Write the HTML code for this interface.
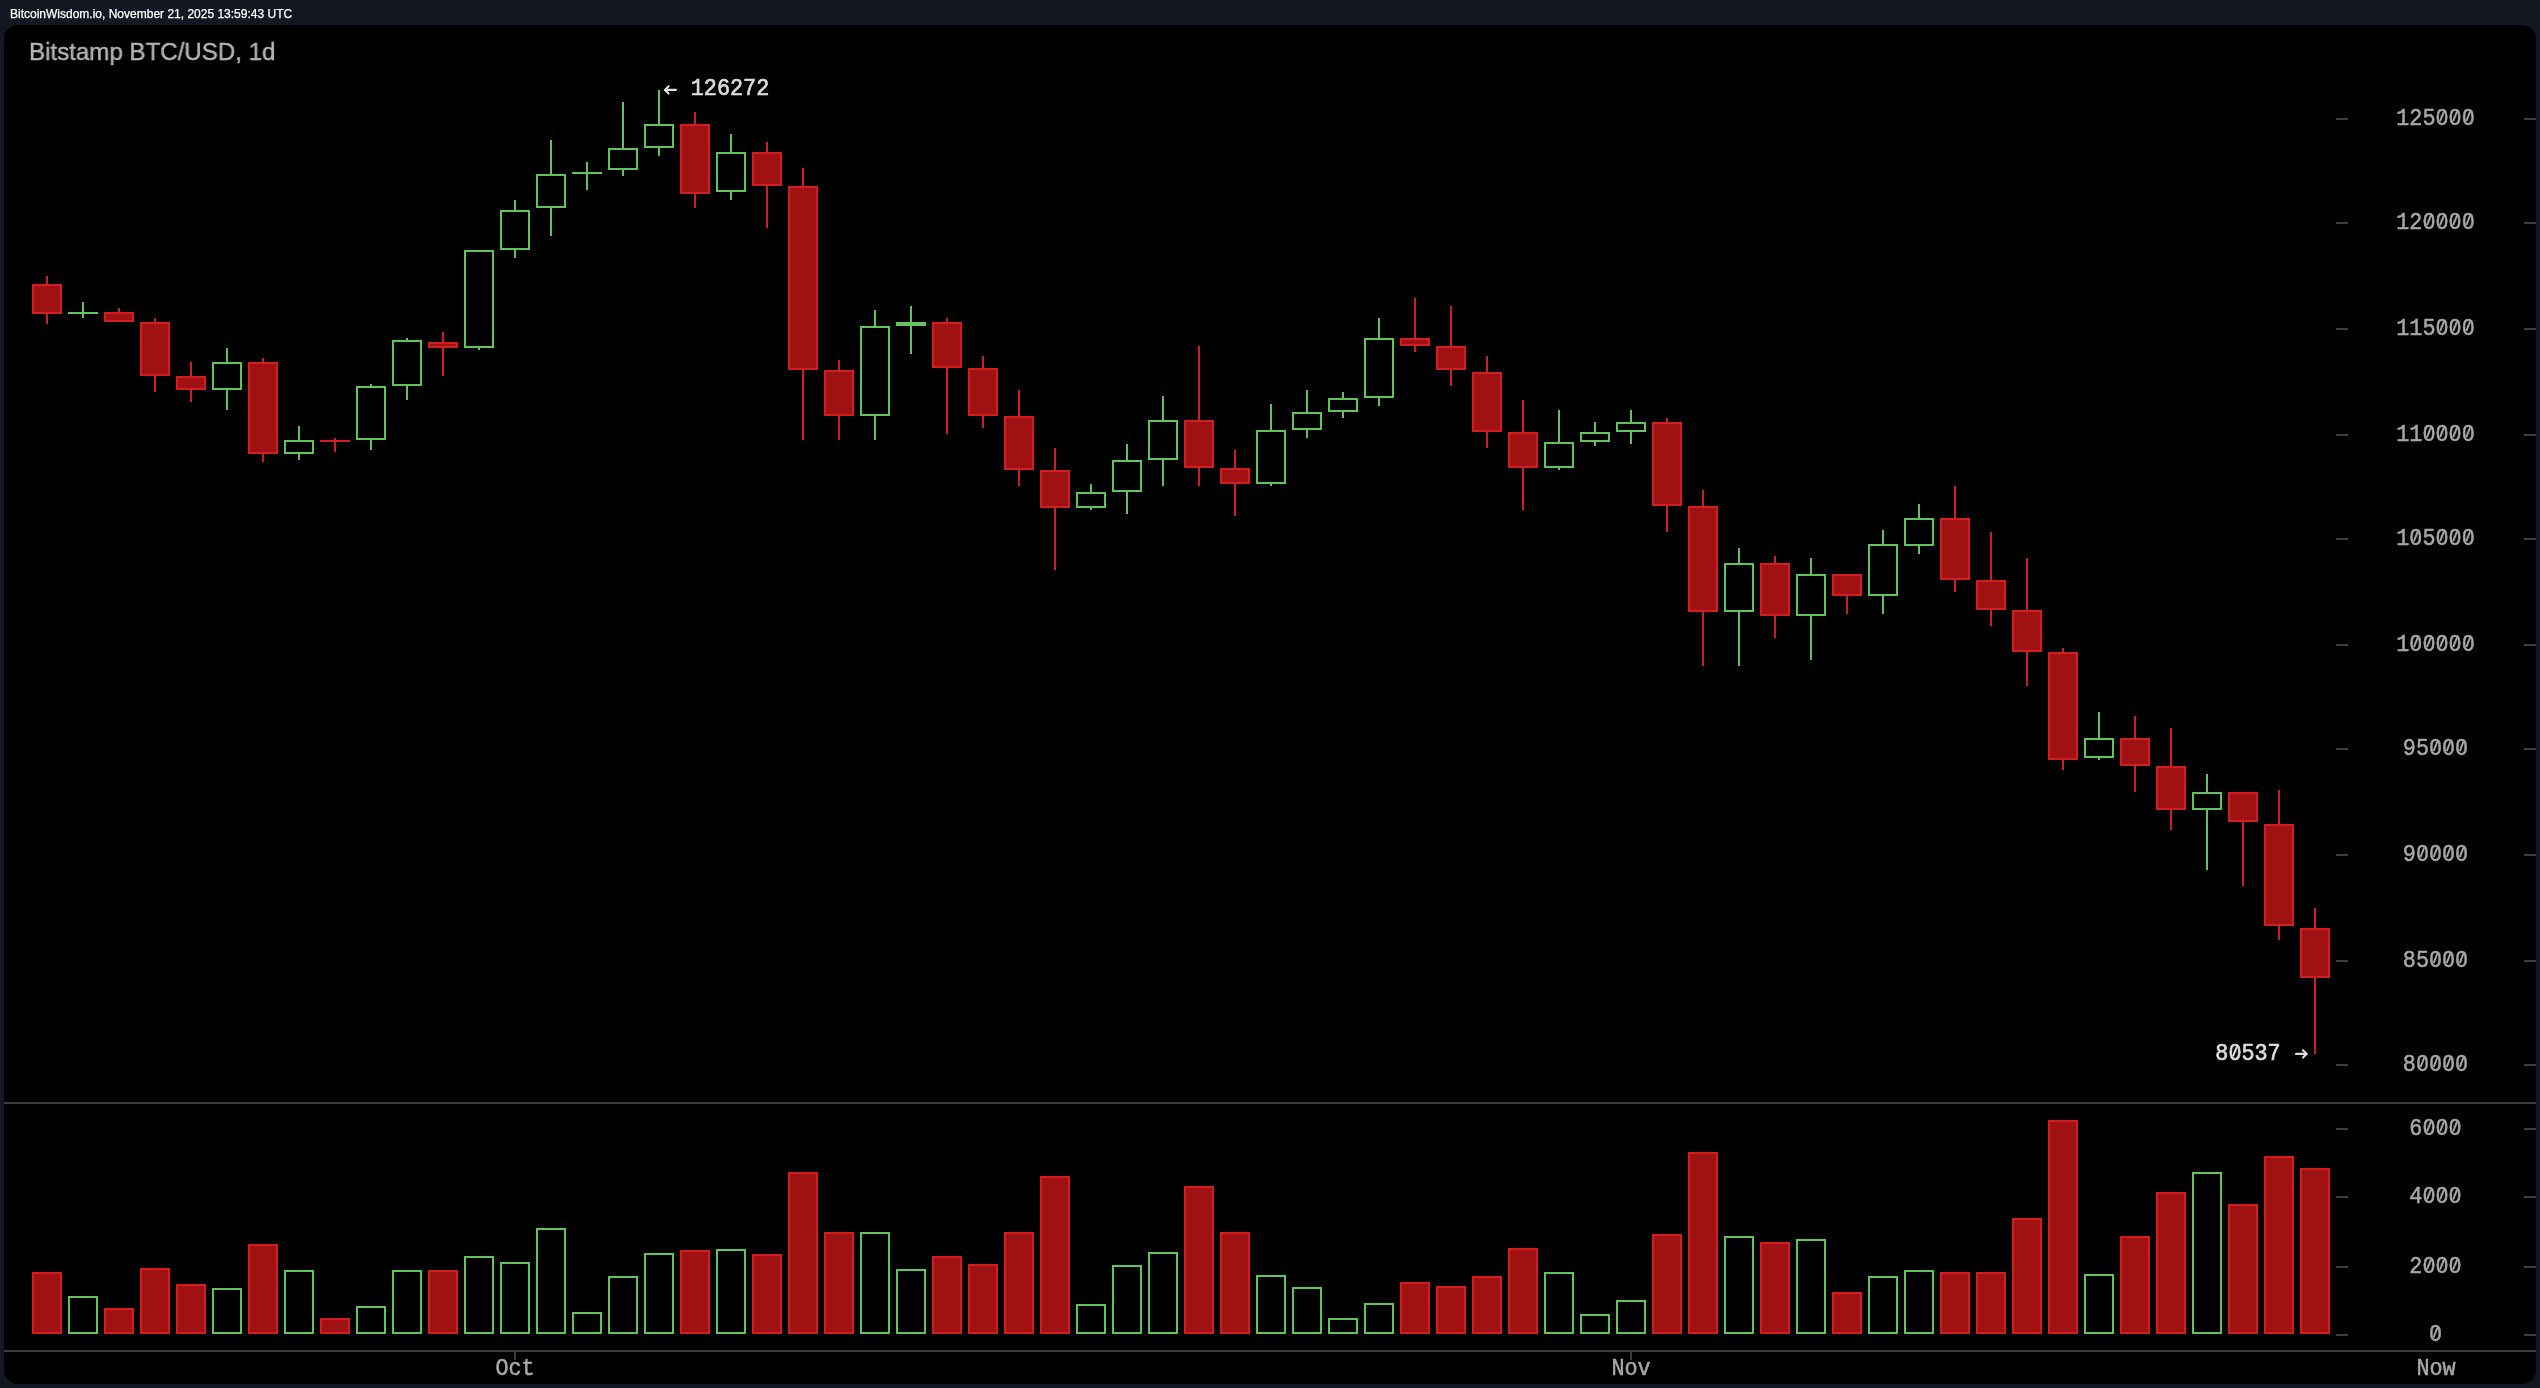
<!DOCTYPE html>
<html><head><meta charset="utf-8"><style>
html,body{margin:0;padding:0;}
body{width:2540px;height:1388px;background:#131722;position:relative;overflow:hidden;}
#hdr{position:absolute;left:10px;top:7.6px;will-change:transform;-webkit-text-stroke:0.25px #fff;font-family:"Liberation Sans",sans-serif;font-size:12px;line-height:1;color:#fff;white-space:nowrap;}
#panel{position:absolute;left:4px;top:25px;width:2532px;height:1359px;background:#000;border-radius:14px;}
#title{position:absolute;left:29.4px;top:39.6px;will-change:transform;transform:scaleX(0.972);transform-origin:0 0;-webkit-text-stroke:0.45px #b4b4b4;font-family:"Liberation Sans",sans-serif;font-size:24.8px;line-height:1;color:#b4b4b4;white-space:nowrap;}
svg{position:absolute;left:0;top:0;will-change:transform;}
.ax{font-family:"Liberation Mono",monospace;font-size:21.8px;fill:#a8a8a8;stroke:#a8a8a8;stroke-width:0.45px;}
.ann{font-family:"Liberation Mono",monospace;font-size:21.8px;fill:#dcdcdc;stroke:#dcdcdc;stroke-width:0.6px;}
</style></head><body>
<div id="hdr">BitcoinWisdom.io, November 21, 2025 13:59:43 UTC</div>
<div id="panel"></div>
<div id="title">Bitstamp BTC/USD, 1d</div>
<svg width="2540" height="1388" viewBox="0 0 2540 1388" shape-rendering="crispEdges">
<rect x="46" y="276" width="2" height="48" fill="#d21e21"/>
<rect x="32" y="284" width="30" height="30" fill="#d21e21"/>
<rect x="34" y="286" width="26" height="26" fill="#9f1113"/>
<rect x="82" y="302" width="2" height="16" fill="#60c45b"/>
<rect x="68" y="312" width="30" height="2" fill="#60c45b"/>
<rect x="118" y="308" width="2" height="14" fill="#d21e21"/>
<rect x="104" y="312" width="30" height="10" fill="#d21e21"/>
<rect x="106" y="314" width="26" height="6" fill="#9f1113"/>
<rect x="154" y="318" width="2" height="74" fill="#d21e21"/>
<rect x="140" y="322" width="30" height="54" fill="#d21e21"/>
<rect x="142" y="324" width="26" height="50" fill="#9f1113"/>
<rect x="190" y="362" width="2" height="40" fill="#d21e21"/>
<rect x="176" y="376" width="30" height="14" fill="#d21e21"/>
<rect x="178" y="378" width="26" height="10" fill="#9f1113"/>
<rect x="226" y="348" width="2" height="62" fill="#60c45b"/>
<rect x="212" y="362" width="30" height="28" fill="#60c45b"/>
<rect x="214" y="364" width="26" height="24" fill="#000"/>
<rect x="262" y="358" width="2" height="104" fill="#d21e21"/>
<rect x="248" y="362" width="30" height="92" fill="#d21e21"/>
<rect x="250" y="364" width="26" height="88" fill="#9f1113"/>
<rect x="298" y="426" width="2" height="34" fill="#60c45b"/>
<rect x="284" y="440" width="30" height="14" fill="#60c45b"/>
<rect x="286" y="442" width="26" height="10" fill="#000"/>
<rect x="334" y="438" width="2" height="14" fill="#d21e21"/>
<rect x="320" y="440" width="30" height="2" fill="#d21e21"/>
<rect x="370" y="384" width="2" height="66" fill="#60c45b"/>
<rect x="356" y="386" width="30" height="54" fill="#60c45b"/>
<rect x="358" y="388" width="26" height="50" fill="#000"/>
<rect x="406" y="338" width="2" height="62" fill="#60c45b"/>
<rect x="392" y="340" width="30" height="46" fill="#60c45b"/>
<rect x="394" y="342" width="26" height="42" fill="#000"/>
<rect x="442" y="332" width="2" height="44" fill="#d21e21"/>
<rect x="428" y="342" width="30" height="6" fill="#d21e21"/>
<rect x="430" y="344" width="26" height="2" fill="#9f1113"/>
<rect x="478" y="250" width="2" height="100" fill="#60c45b"/>
<rect x="464" y="250" width="30" height="98" fill="#60c45b"/>
<rect x="466" y="252" width="26" height="94" fill="#000"/>
<rect x="514" y="200" width="2" height="58" fill="#60c45b"/>
<rect x="500" y="210" width="30" height="40" fill="#60c45b"/>
<rect x="502" y="212" width="26" height="36" fill="#000"/>
<rect x="550" y="140" width="2" height="96" fill="#60c45b"/>
<rect x="536" y="174" width="30" height="34" fill="#60c45b"/>
<rect x="538" y="176" width="26" height="30" fill="#000"/>
<rect x="586" y="162" width="2" height="28" fill="#60c45b"/>
<rect x="572" y="172" width="30" height="2" fill="#60c45b"/>
<rect x="622" y="102" width="2" height="74" fill="#60c45b"/>
<rect x="608" y="148" width="30" height="22" fill="#60c45b"/>
<rect x="610" y="150" width="26" height="18" fill="#000"/>
<rect x="658" y="90" width="2" height="66" fill="#60c45b"/>
<rect x="644" y="124" width="30" height="24" fill="#60c45b"/>
<rect x="646" y="126" width="26" height="20" fill="#000"/>
<rect x="694" y="112" width="2" height="96" fill="#d21e21"/>
<rect x="680" y="124" width="30" height="70" fill="#d21e21"/>
<rect x="682" y="126" width="26" height="66" fill="#9f1113"/>
<rect x="730" y="134" width="2" height="66" fill="#60c45b"/>
<rect x="716" y="152" width="30" height="40" fill="#60c45b"/>
<rect x="718" y="154" width="26" height="36" fill="#000"/>
<rect x="766" y="142" width="2" height="86" fill="#d21e21"/>
<rect x="752" y="152" width="30" height="34" fill="#d21e21"/>
<rect x="754" y="154" width="26" height="30" fill="#9f1113"/>
<rect x="802" y="168" width="2" height="272" fill="#d21e21"/>
<rect x="788" y="186" width="30" height="184" fill="#d21e21"/>
<rect x="790" y="188" width="26" height="180" fill="#9f1113"/>
<rect x="838" y="360" width="2" height="80" fill="#d21e21"/>
<rect x="824" y="370" width="30" height="46" fill="#d21e21"/>
<rect x="826" y="372" width="26" height="42" fill="#9f1113"/>
<rect x="874" y="310" width="2" height="130" fill="#60c45b"/>
<rect x="860" y="326" width="30" height="90" fill="#60c45b"/>
<rect x="862" y="328" width="26" height="86" fill="#000"/>
<rect x="910" y="306" width="2" height="48" fill="#60c45b"/>
<rect x="896" y="322" width="30" height="4" fill="#60c45b"/>
<rect x="946" y="318" width="2" height="116" fill="#d21e21"/>
<rect x="932" y="322" width="30" height="46" fill="#d21e21"/>
<rect x="934" y="324" width="26" height="42" fill="#9f1113"/>
<rect x="982" y="356" width="2" height="72" fill="#d21e21"/>
<rect x="968" y="368" width="30" height="48" fill="#d21e21"/>
<rect x="970" y="370" width="26" height="44" fill="#9f1113"/>
<rect x="1018" y="390" width="2" height="96" fill="#d21e21"/>
<rect x="1004" y="416" width="30" height="54" fill="#d21e21"/>
<rect x="1006" y="418" width="26" height="50" fill="#9f1113"/>
<rect x="1054" y="448" width="2" height="122" fill="#d21e21"/>
<rect x="1040" y="470" width="30" height="38" fill="#d21e21"/>
<rect x="1042" y="472" width="26" height="34" fill="#9f1113"/>
<rect x="1090" y="484" width="2" height="26" fill="#60c45b"/>
<rect x="1076" y="492" width="30" height="16" fill="#60c45b"/>
<rect x="1078" y="494" width="26" height="12" fill="#000"/>
<rect x="1126" y="444" width="2" height="70" fill="#60c45b"/>
<rect x="1112" y="460" width="30" height="32" fill="#60c45b"/>
<rect x="1114" y="462" width="26" height="28" fill="#000"/>
<rect x="1162" y="396" width="2" height="90" fill="#60c45b"/>
<rect x="1148" y="420" width="30" height="40" fill="#60c45b"/>
<rect x="1150" y="422" width="26" height="36" fill="#000"/>
<rect x="1198" y="346" width="2" height="140" fill="#d21e21"/>
<rect x="1184" y="420" width="30" height="48" fill="#d21e21"/>
<rect x="1186" y="422" width="26" height="44" fill="#9f1113"/>
<rect x="1234" y="450" width="2" height="66" fill="#d21e21"/>
<rect x="1220" y="468" width="30" height="16" fill="#d21e21"/>
<rect x="1222" y="470" width="26" height="12" fill="#9f1113"/>
<rect x="1270" y="404" width="2" height="82" fill="#60c45b"/>
<rect x="1256" y="430" width="30" height="54" fill="#60c45b"/>
<rect x="1258" y="432" width="26" height="50" fill="#000"/>
<rect x="1306" y="390" width="2" height="48" fill="#60c45b"/>
<rect x="1292" y="412" width="30" height="18" fill="#60c45b"/>
<rect x="1294" y="414" width="26" height="14" fill="#000"/>
<rect x="1342" y="392" width="2" height="26" fill="#60c45b"/>
<rect x="1328" y="398" width="30" height="14" fill="#60c45b"/>
<rect x="1330" y="400" width="26" height="10" fill="#000"/>
<rect x="1378" y="318" width="2" height="88" fill="#60c45b"/>
<rect x="1364" y="338" width="30" height="60" fill="#60c45b"/>
<rect x="1366" y="340" width="26" height="56" fill="#000"/>
<rect x="1414" y="298" width="2" height="54" fill="#d21e21"/>
<rect x="1400" y="338" width="30" height="8" fill="#d21e21"/>
<rect x="1402" y="340" width="26" height="4" fill="#9f1113"/>
<rect x="1450" y="306" width="2" height="80" fill="#d21e21"/>
<rect x="1436" y="346" width="30" height="24" fill="#d21e21"/>
<rect x="1438" y="348" width="26" height="20" fill="#9f1113"/>
<rect x="1486" y="356" width="2" height="92" fill="#d21e21"/>
<rect x="1472" y="372" width="30" height="60" fill="#d21e21"/>
<rect x="1474" y="374" width="26" height="56" fill="#9f1113"/>
<rect x="1522" y="400" width="2" height="110" fill="#d21e21"/>
<rect x="1508" y="432" width="30" height="36" fill="#d21e21"/>
<rect x="1510" y="434" width="26" height="32" fill="#9f1113"/>
<rect x="1558" y="410" width="2" height="60" fill="#60c45b"/>
<rect x="1544" y="442" width="30" height="26" fill="#60c45b"/>
<rect x="1546" y="444" width="26" height="22" fill="#000"/>
<rect x="1594" y="422" width="2" height="24" fill="#60c45b"/>
<rect x="1580" y="432" width="30" height="10" fill="#60c45b"/>
<rect x="1582" y="434" width="26" height="6" fill="#000"/>
<rect x="1630" y="410" width="2" height="34" fill="#60c45b"/>
<rect x="1616" y="422" width="30" height="10" fill="#60c45b"/>
<rect x="1618" y="424" width="26" height="6" fill="#000"/>
<rect x="1666" y="418" width="2" height="114" fill="#d21e21"/>
<rect x="1652" y="422" width="30" height="84" fill="#d21e21"/>
<rect x="1654" y="424" width="26" height="80" fill="#9f1113"/>
<rect x="1702" y="490" width="2" height="176" fill="#d21e21"/>
<rect x="1688" y="506" width="30" height="106" fill="#d21e21"/>
<rect x="1690" y="508" width="26" height="102" fill="#9f1113"/>
<rect x="1738" y="548" width="2" height="118" fill="#60c45b"/>
<rect x="1724" y="563" width="30" height="49" fill="#60c45b"/>
<rect x="1726" y="565" width="26" height="45" fill="#000"/>
<rect x="1774" y="556" width="2" height="82" fill="#d21e21"/>
<rect x="1760" y="563" width="30" height="53" fill="#d21e21"/>
<rect x="1762" y="565" width="26" height="49" fill="#9f1113"/>
<rect x="1810" y="558" width="2" height="102" fill="#60c45b"/>
<rect x="1796" y="574" width="30" height="42" fill="#60c45b"/>
<rect x="1798" y="576" width="26" height="38" fill="#000"/>
<rect x="1846" y="574" width="2" height="40" fill="#d21e21"/>
<rect x="1832" y="574" width="30" height="22" fill="#d21e21"/>
<rect x="1834" y="576" width="26" height="18" fill="#9f1113"/>
<rect x="1882" y="530" width="2" height="84" fill="#60c45b"/>
<rect x="1868" y="544" width="30" height="52" fill="#60c45b"/>
<rect x="1870" y="546" width="26" height="48" fill="#000"/>
<rect x="1918" y="504" width="2" height="50" fill="#60c45b"/>
<rect x="1904" y="518" width="30" height="28" fill="#60c45b"/>
<rect x="1906" y="520" width="26" height="24" fill="#000"/>
<rect x="1954" y="486" width="2" height="106" fill="#d21e21"/>
<rect x="1940" y="518" width="30" height="62" fill="#d21e21"/>
<rect x="1942" y="520" width="26" height="58" fill="#9f1113"/>
<rect x="1990" y="532" width="2" height="94" fill="#d21e21"/>
<rect x="1976" y="580" width="30" height="30" fill="#d21e21"/>
<rect x="1978" y="582" width="26" height="26" fill="#9f1113"/>
<rect x="2026" y="558" width="2" height="128" fill="#d21e21"/>
<rect x="2012" y="610" width="30" height="42" fill="#d21e21"/>
<rect x="2014" y="612" width="26" height="38" fill="#9f1113"/>
<rect x="2062" y="648" width="2" height="122" fill="#d21e21"/>
<rect x="2048" y="652" width="30" height="108" fill="#d21e21"/>
<rect x="2050" y="654" width="26" height="104" fill="#9f1113"/>
<rect x="2098" y="712" width="2" height="48" fill="#60c45b"/>
<rect x="2084" y="738" width="30" height="20" fill="#60c45b"/>
<rect x="2086" y="740" width="26" height="16" fill="#000"/>
<rect x="2134" y="716" width="2" height="76" fill="#d21e21"/>
<rect x="2120" y="738" width="30" height="28" fill="#d21e21"/>
<rect x="2122" y="740" width="26" height="24" fill="#9f1113"/>
<rect x="2170" y="728" width="2" height="102" fill="#d21e21"/>
<rect x="2156" y="766" width="30" height="44" fill="#d21e21"/>
<rect x="2158" y="768" width="26" height="40" fill="#9f1113"/>
<rect x="2206" y="774" width="2" height="96" fill="#60c45b"/>
<rect x="2192" y="792" width="30" height="18" fill="#60c45b"/>
<rect x="2194" y="794" width="26" height="14" fill="#000"/>
<rect x="2242" y="792" width="2" height="94" fill="#d21e21"/>
<rect x="2228" y="792" width="30" height="30" fill="#d21e21"/>
<rect x="2230" y="794" width="26" height="26" fill="#9f1113"/>
<rect x="2278" y="790" width="2" height="150" fill="#d21e21"/>
<rect x="2264" y="824" width="30" height="102" fill="#d21e21"/>
<rect x="2266" y="826" width="26" height="98" fill="#9f1113"/>
<rect x="2314" y="908" width="2" height="146" fill="#d21e21"/>
<rect x="2300" y="928" width="30" height="50" fill="#d21e21"/>
<rect x="2302" y="930" width="26" height="46" fill="#9f1113"/>
<rect x="32" y="1272" width="30" height="62" fill="#d21e21"/>
<rect x="34" y="1274" width="26" height="58" fill="#9f1113"/>
<rect x="68" y="1296" width="30" height="38" fill="#60c45b"/>
<rect x="70" y="1298" width="26" height="34" fill="#000"/>
<rect x="104" y="1308" width="30" height="26" fill="#d21e21"/>
<rect x="106" y="1310" width="26" height="22" fill="#9f1113"/>
<rect x="140" y="1268" width="30" height="66" fill="#d21e21"/>
<rect x="142" y="1270" width="26" height="62" fill="#9f1113"/>
<rect x="176" y="1284" width="30" height="50" fill="#d21e21"/>
<rect x="178" y="1286" width="26" height="46" fill="#9f1113"/>
<rect x="212" y="1288" width="30" height="46" fill="#60c45b"/>
<rect x="214" y="1290" width="26" height="42" fill="#000"/>
<rect x="248" y="1244" width="30" height="90" fill="#d21e21"/>
<rect x="250" y="1246" width="26" height="86" fill="#9f1113"/>
<rect x="284" y="1270" width="30" height="64" fill="#60c45b"/>
<rect x="286" y="1272" width="26" height="60" fill="#000"/>
<rect x="320" y="1318" width="30" height="16" fill="#d21e21"/>
<rect x="322" y="1320" width="26" height="12" fill="#9f1113"/>
<rect x="356" y="1306" width="30" height="28" fill="#60c45b"/>
<rect x="358" y="1308" width="26" height="24" fill="#000"/>
<rect x="392" y="1270" width="30" height="64" fill="#60c45b"/>
<rect x="394" y="1272" width="26" height="60" fill="#000"/>
<rect x="428" y="1270" width="30" height="64" fill="#d21e21"/>
<rect x="430" y="1272" width="26" height="60" fill="#9f1113"/>
<rect x="464" y="1256" width="30" height="78" fill="#60c45b"/>
<rect x="466" y="1258" width="26" height="74" fill="#000"/>
<rect x="500" y="1262" width="30" height="72" fill="#60c45b"/>
<rect x="502" y="1264" width="26" height="68" fill="#000"/>
<rect x="536" y="1228" width="30" height="106" fill="#60c45b"/>
<rect x="538" y="1230" width="26" height="102" fill="#000"/>
<rect x="572" y="1312" width="30" height="22" fill="#60c45b"/>
<rect x="574" y="1314" width="26" height="18" fill="#000"/>
<rect x="608" y="1276" width="30" height="58" fill="#60c45b"/>
<rect x="610" y="1278" width="26" height="54" fill="#000"/>
<rect x="644" y="1253" width="30" height="81" fill="#60c45b"/>
<rect x="646" y="1255" width="26" height="77" fill="#000"/>
<rect x="680" y="1250" width="30" height="84" fill="#d21e21"/>
<rect x="682" y="1252" width="26" height="80" fill="#9f1113"/>
<rect x="716" y="1249" width="30" height="85" fill="#60c45b"/>
<rect x="718" y="1251" width="26" height="81" fill="#000"/>
<rect x="752" y="1254" width="30" height="80" fill="#d21e21"/>
<rect x="754" y="1256" width="26" height="76" fill="#9f1113"/>
<rect x="788" y="1172" width="30" height="162" fill="#d21e21"/>
<rect x="790" y="1174" width="26" height="158" fill="#9f1113"/>
<rect x="824" y="1232" width="30" height="102" fill="#d21e21"/>
<rect x="826" y="1234" width="26" height="98" fill="#9f1113"/>
<rect x="860" y="1232" width="30" height="102" fill="#60c45b"/>
<rect x="862" y="1234" width="26" height="98" fill="#000"/>
<rect x="896" y="1269" width="30" height="65" fill="#60c45b"/>
<rect x="898" y="1271" width="26" height="61" fill="#000"/>
<rect x="932" y="1256" width="30" height="78" fill="#d21e21"/>
<rect x="934" y="1258" width="26" height="74" fill="#9f1113"/>
<rect x="968" y="1264" width="30" height="70" fill="#d21e21"/>
<rect x="970" y="1266" width="26" height="66" fill="#9f1113"/>
<rect x="1004" y="1232" width="30" height="102" fill="#d21e21"/>
<rect x="1006" y="1234" width="26" height="98" fill="#9f1113"/>
<rect x="1040" y="1176" width="30" height="158" fill="#d21e21"/>
<rect x="1042" y="1178" width="26" height="154" fill="#9f1113"/>
<rect x="1076" y="1304" width="30" height="30" fill="#60c45b"/>
<rect x="1078" y="1306" width="26" height="26" fill="#000"/>
<rect x="1112" y="1265" width="30" height="69" fill="#60c45b"/>
<rect x="1114" y="1267" width="26" height="65" fill="#000"/>
<rect x="1148" y="1252" width="30" height="82" fill="#60c45b"/>
<rect x="1150" y="1254" width="26" height="78" fill="#000"/>
<rect x="1184" y="1186" width="30" height="148" fill="#d21e21"/>
<rect x="1186" y="1188" width="26" height="144" fill="#9f1113"/>
<rect x="1220" y="1232" width="30" height="102" fill="#d21e21"/>
<rect x="1222" y="1234" width="26" height="98" fill="#9f1113"/>
<rect x="1256" y="1275" width="30" height="59" fill="#60c45b"/>
<rect x="1258" y="1277" width="26" height="55" fill="#000"/>
<rect x="1292" y="1287" width="30" height="47" fill="#60c45b"/>
<rect x="1294" y="1289" width="26" height="43" fill="#000"/>
<rect x="1328" y="1318" width="30" height="16" fill="#60c45b"/>
<rect x="1330" y="1320" width="26" height="12" fill="#000"/>
<rect x="1364" y="1303" width="30" height="31" fill="#60c45b"/>
<rect x="1366" y="1305" width="26" height="27" fill="#000"/>
<rect x="1400" y="1282" width="30" height="52" fill="#d21e21"/>
<rect x="1402" y="1284" width="26" height="48" fill="#9f1113"/>
<rect x="1436" y="1286" width="30" height="48" fill="#d21e21"/>
<rect x="1438" y="1288" width="26" height="44" fill="#9f1113"/>
<rect x="1472" y="1276" width="30" height="58" fill="#d21e21"/>
<rect x="1474" y="1278" width="26" height="54" fill="#9f1113"/>
<rect x="1508" y="1248" width="30" height="86" fill="#d21e21"/>
<rect x="1510" y="1250" width="26" height="82" fill="#9f1113"/>
<rect x="1544" y="1272" width="30" height="62" fill="#60c45b"/>
<rect x="1546" y="1274" width="26" height="58" fill="#000"/>
<rect x="1580" y="1314" width="30" height="20" fill="#60c45b"/>
<rect x="1582" y="1316" width="26" height="16" fill="#000"/>
<rect x="1616" y="1300" width="30" height="34" fill="#60c45b"/>
<rect x="1618" y="1302" width="26" height="30" fill="#000"/>
<rect x="1652" y="1234" width="30" height="100" fill="#d21e21"/>
<rect x="1654" y="1236" width="26" height="96" fill="#9f1113"/>
<rect x="1688" y="1152" width="30" height="182" fill="#d21e21"/>
<rect x="1690" y="1154" width="26" height="178" fill="#9f1113"/>
<rect x="1724" y="1236" width="30" height="98" fill="#60c45b"/>
<rect x="1726" y="1238" width="26" height="94" fill="#000"/>
<rect x="1760" y="1242" width="30" height="92" fill="#d21e21"/>
<rect x="1762" y="1244" width="26" height="88" fill="#9f1113"/>
<rect x="1796" y="1239" width="30" height="95" fill="#60c45b"/>
<rect x="1798" y="1241" width="26" height="91" fill="#000"/>
<rect x="1832" y="1292" width="30" height="42" fill="#d21e21"/>
<rect x="1834" y="1294" width="26" height="38" fill="#9f1113"/>
<rect x="1868" y="1276" width="30" height="58" fill="#60c45b"/>
<rect x="1870" y="1278" width="26" height="54" fill="#000"/>
<rect x="1904" y="1270" width="30" height="64" fill="#60c45b"/>
<rect x="1906" y="1272" width="26" height="60" fill="#000"/>
<rect x="1940" y="1272" width="30" height="62" fill="#d21e21"/>
<rect x="1942" y="1274" width="26" height="58" fill="#9f1113"/>
<rect x="1976" y="1272" width="30" height="62" fill="#d21e21"/>
<rect x="1978" y="1274" width="26" height="58" fill="#9f1113"/>
<rect x="2012" y="1218" width="30" height="116" fill="#d21e21"/>
<rect x="2014" y="1220" width="26" height="112" fill="#9f1113"/>
<rect x="2048" y="1120" width="30" height="214" fill="#d21e21"/>
<rect x="2050" y="1122" width="26" height="210" fill="#9f1113"/>
<rect x="2084" y="1274" width="30" height="60" fill="#60c45b"/>
<rect x="2086" y="1276" width="26" height="56" fill="#000"/>
<rect x="2120" y="1236" width="30" height="98" fill="#d21e21"/>
<rect x="2122" y="1238" width="26" height="94" fill="#9f1113"/>
<rect x="2156" y="1192" width="30" height="142" fill="#d21e21"/>
<rect x="2158" y="1194" width="26" height="138" fill="#9f1113"/>
<rect x="2192" y="1172" width="30" height="162" fill="#60c45b"/>
<rect x="2194" y="1174" width="26" height="158" fill="#000"/>
<rect x="2228" y="1204" width="30" height="130" fill="#d21e21"/>
<rect x="2230" y="1206" width="26" height="126" fill="#9f1113"/>
<rect x="2264" y="1156" width="30" height="178" fill="#d21e21"/>
<rect x="2266" y="1158" width="26" height="174" fill="#9f1113"/>
<rect x="2300" y="1168" width="30" height="166" fill="#d21e21"/>
<rect x="2302" y="1170" width="26" height="162" fill="#9f1113"/>
<rect x="2336" y="118" width="12" height="2" fill="#3e3e3e"/>
<rect x="2524" y="118" width="12" height="2" fill="#3e3e3e"/>
<text transform="translate(2435.50,124.50) scale(1,1.13)" class="ax" text-anchor="middle">125000</text>
<rect x="2440.34" y="114.00" width="3.4" height="4.6" fill="#000" shape-rendering="geometricPrecision"/>
<path d="M2440.14 121.20L2443.94 111.40" stroke="#a8a8a8" stroke-width="1.9" fill="none" shape-rendering="geometricPrecision"/>
<rect x="2453.42" y="114.00" width="3.4" height="4.6" fill="#000" shape-rendering="geometricPrecision"/>
<path d="M2453.22 121.20L2457.02 111.40" stroke="#a8a8a8" stroke-width="1.9" fill="none" shape-rendering="geometricPrecision"/>
<rect x="2466.50" y="114.00" width="3.4" height="4.6" fill="#000" shape-rendering="geometricPrecision"/>
<path d="M2466.30 121.20L2470.10 111.40" stroke="#a8a8a8" stroke-width="1.9" fill="none" shape-rendering="geometricPrecision"/>
<rect x="2336" y="222" width="12" height="2" fill="#3e3e3e"/>
<rect x="2524" y="222" width="12" height="2" fill="#3e3e3e"/>
<text transform="translate(2435.50,228.50) scale(1,1.13)" class="ax" text-anchor="middle">120000</text>
<rect x="2427.26" y="218.00" width="3.4" height="4.6" fill="#000" shape-rendering="geometricPrecision"/>
<path d="M2427.06 225.20L2430.86 215.40" stroke="#a8a8a8" stroke-width="1.9" fill="none" shape-rendering="geometricPrecision"/>
<rect x="2440.34" y="218.00" width="3.4" height="4.6" fill="#000" shape-rendering="geometricPrecision"/>
<path d="M2440.14 225.20L2443.94 215.40" stroke="#a8a8a8" stroke-width="1.9" fill="none" shape-rendering="geometricPrecision"/>
<rect x="2453.42" y="218.00" width="3.4" height="4.6" fill="#000" shape-rendering="geometricPrecision"/>
<path d="M2453.22 225.20L2457.02 215.40" stroke="#a8a8a8" stroke-width="1.9" fill="none" shape-rendering="geometricPrecision"/>
<rect x="2466.50" y="218.00" width="3.4" height="4.6" fill="#000" shape-rendering="geometricPrecision"/>
<path d="M2466.30 225.20L2470.10 215.40" stroke="#a8a8a8" stroke-width="1.9" fill="none" shape-rendering="geometricPrecision"/>
<rect x="2336" y="328" width="12" height="2" fill="#3e3e3e"/>
<rect x="2524" y="328" width="12" height="2" fill="#3e3e3e"/>
<text transform="translate(2435.50,334.50) scale(1,1.13)" class="ax" text-anchor="middle">115000</text>
<rect x="2440.34" y="324.00" width="3.4" height="4.6" fill="#000" shape-rendering="geometricPrecision"/>
<path d="M2440.14 331.20L2443.94 321.40" stroke="#a8a8a8" stroke-width="1.9" fill="none" shape-rendering="geometricPrecision"/>
<rect x="2453.42" y="324.00" width="3.4" height="4.6" fill="#000" shape-rendering="geometricPrecision"/>
<path d="M2453.22 331.20L2457.02 321.40" stroke="#a8a8a8" stroke-width="1.9" fill="none" shape-rendering="geometricPrecision"/>
<rect x="2466.50" y="324.00" width="3.4" height="4.6" fill="#000" shape-rendering="geometricPrecision"/>
<path d="M2466.30 331.20L2470.10 321.40" stroke="#a8a8a8" stroke-width="1.9" fill="none" shape-rendering="geometricPrecision"/>
<rect x="2336" y="434" width="12" height="2" fill="#3e3e3e"/>
<rect x="2524" y="434" width="12" height="2" fill="#3e3e3e"/>
<text transform="translate(2435.50,440.50) scale(1,1.13)" class="ax" text-anchor="middle">110000</text>
<rect x="2427.26" y="430.00" width="3.4" height="4.6" fill="#000" shape-rendering="geometricPrecision"/>
<path d="M2427.06 437.20L2430.86 427.40" stroke="#a8a8a8" stroke-width="1.9" fill="none" shape-rendering="geometricPrecision"/>
<rect x="2440.34" y="430.00" width="3.4" height="4.6" fill="#000" shape-rendering="geometricPrecision"/>
<path d="M2440.14 437.20L2443.94 427.40" stroke="#a8a8a8" stroke-width="1.9" fill="none" shape-rendering="geometricPrecision"/>
<rect x="2453.42" y="430.00" width="3.4" height="4.6" fill="#000" shape-rendering="geometricPrecision"/>
<path d="M2453.22 437.20L2457.02 427.40" stroke="#a8a8a8" stroke-width="1.9" fill="none" shape-rendering="geometricPrecision"/>
<rect x="2466.50" y="430.00" width="3.4" height="4.6" fill="#000" shape-rendering="geometricPrecision"/>
<path d="M2466.30 437.20L2470.10 427.40" stroke="#a8a8a8" stroke-width="1.9" fill="none" shape-rendering="geometricPrecision"/>
<rect x="2336" y="538" width="12" height="2" fill="#3e3e3e"/>
<rect x="2524" y="538" width="12" height="2" fill="#3e3e3e"/>
<text transform="translate(2435.50,544.50) scale(1,1.13)" class="ax" text-anchor="middle">105000</text>
<rect x="2414.18" y="534.00" width="3.4" height="4.6" fill="#000" shape-rendering="geometricPrecision"/>
<path d="M2413.98 541.20L2417.78 531.40" stroke="#a8a8a8" stroke-width="1.9" fill="none" shape-rendering="geometricPrecision"/>
<rect x="2440.34" y="534.00" width="3.4" height="4.6" fill="#000" shape-rendering="geometricPrecision"/>
<path d="M2440.14 541.20L2443.94 531.40" stroke="#a8a8a8" stroke-width="1.9" fill="none" shape-rendering="geometricPrecision"/>
<rect x="2453.42" y="534.00" width="3.4" height="4.6" fill="#000" shape-rendering="geometricPrecision"/>
<path d="M2453.22 541.20L2457.02 531.40" stroke="#a8a8a8" stroke-width="1.9" fill="none" shape-rendering="geometricPrecision"/>
<rect x="2466.50" y="534.00" width="3.4" height="4.6" fill="#000" shape-rendering="geometricPrecision"/>
<path d="M2466.30 541.20L2470.10 531.40" stroke="#a8a8a8" stroke-width="1.9" fill="none" shape-rendering="geometricPrecision"/>
<rect x="2336" y="644" width="12" height="2" fill="#3e3e3e"/>
<rect x="2524" y="644" width="12" height="2" fill="#3e3e3e"/>
<text transform="translate(2435.50,650.50) scale(1,1.13)" class="ax" text-anchor="middle">100000</text>
<rect x="2414.18" y="640.00" width="3.4" height="4.6" fill="#000" shape-rendering="geometricPrecision"/>
<path d="M2413.98 647.20L2417.78 637.40" stroke="#a8a8a8" stroke-width="1.9" fill="none" shape-rendering="geometricPrecision"/>
<rect x="2427.26" y="640.00" width="3.4" height="4.6" fill="#000" shape-rendering="geometricPrecision"/>
<path d="M2427.06 647.20L2430.86 637.40" stroke="#a8a8a8" stroke-width="1.9" fill="none" shape-rendering="geometricPrecision"/>
<rect x="2440.34" y="640.00" width="3.4" height="4.6" fill="#000" shape-rendering="geometricPrecision"/>
<path d="M2440.14 647.20L2443.94 637.40" stroke="#a8a8a8" stroke-width="1.9" fill="none" shape-rendering="geometricPrecision"/>
<rect x="2453.42" y="640.00" width="3.4" height="4.6" fill="#000" shape-rendering="geometricPrecision"/>
<path d="M2453.22 647.20L2457.02 637.40" stroke="#a8a8a8" stroke-width="1.9" fill="none" shape-rendering="geometricPrecision"/>
<rect x="2466.50" y="640.00" width="3.4" height="4.6" fill="#000" shape-rendering="geometricPrecision"/>
<path d="M2466.30 647.20L2470.10 637.40" stroke="#a8a8a8" stroke-width="1.9" fill="none" shape-rendering="geometricPrecision"/>
<rect x="2336" y="748" width="12" height="2" fill="#3e3e3e"/>
<rect x="2524" y="748" width="12" height="2" fill="#3e3e3e"/>
<text transform="translate(2435.50,754.50) scale(1,1.13)" class="ax" text-anchor="middle">95000</text>
<rect x="2433.80" y="744.00" width="3.4" height="4.6" fill="#000" shape-rendering="geometricPrecision"/>
<path d="M2433.60 751.20L2437.40 741.40" stroke="#a8a8a8" stroke-width="1.9" fill="none" shape-rendering="geometricPrecision"/>
<rect x="2446.88" y="744.00" width="3.4" height="4.6" fill="#000" shape-rendering="geometricPrecision"/>
<path d="M2446.68 751.20L2450.48 741.40" stroke="#a8a8a8" stroke-width="1.9" fill="none" shape-rendering="geometricPrecision"/>
<rect x="2459.96" y="744.00" width="3.4" height="4.6" fill="#000" shape-rendering="geometricPrecision"/>
<path d="M2459.76 751.20L2463.56 741.40" stroke="#a8a8a8" stroke-width="1.9" fill="none" shape-rendering="geometricPrecision"/>
<rect x="2336" y="854" width="12" height="2" fill="#3e3e3e"/>
<rect x="2524" y="854" width="12" height="2" fill="#3e3e3e"/>
<text transform="translate(2435.50,860.50) scale(1,1.13)" class="ax" text-anchor="middle">90000</text>
<rect x="2420.72" y="850.00" width="3.4" height="4.6" fill="#000" shape-rendering="geometricPrecision"/>
<path d="M2420.52 857.20L2424.32 847.40" stroke="#a8a8a8" stroke-width="1.9" fill="none" shape-rendering="geometricPrecision"/>
<rect x="2433.80" y="850.00" width="3.4" height="4.6" fill="#000" shape-rendering="geometricPrecision"/>
<path d="M2433.60 857.20L2437.40 847.40" stroke="#a8a8a8" stroke-width="1.9" fill="none" shape-rendering="geometricPrecision"/>
<rect x="2446.88" y="850.00" width="3.4" height="4.6" fill="#000" shape-rendering="geometricPrecision"/>
<path d="M2446.68 857.20L2450.48 847.40" stroke="#a8a8a8" stroke-width="1.9" fill="none" shape-rendering="geometricPrecision"/>
<rect x="2459.96" y="850.00" width="3.4" height="4.6" fill="#000" shape-rendering="geometricPrecision"/>
<path d="M2459.76 857.20L2463.56 847.40" stroke="#a8a8a8" stroke-width="1.9" fill="none" shape-rendering="geometricPrecision"/>
<rect x="2336" y="960" width="12" height="2" fill="#3e3e3e"/>
<rect x="2524" y="960" width="12" height="2" fill="#3e3e3e"/>
<text transform="translate(2435.50,966.50) scale(1,1.13)" class="ax" text-anchor="middle">85000</text>
<rect x="2433.80" y="956.00" width="3.4" height="4.6" fill="#000" shape-rendering="geometricPrecision"/>
<path d="M2433.60 963.20L2437.40 953.40" stroke="#a8a8a8" stroke-width="1.9" fill="none" shape-rendering="geometricPrecision"/>
<rect x="2446.88" y="956.00" width="3.4" height="4.6" fill="#000" shape-rendering="geometricPrecision"/>
<path d="M2446.68 963.20L2450.48 953.40" stroke="#a8a8a8" stroke-width="1.9" fill="none" shape-rendering="geometricPrecision"/>
<rect x="2459.96" y="956.00" width="3.4" height="4.6" fill="#000" shape-rendering="geometricPrecision"/>
<path d="M2459.76 963.20L2463.56 953.40" stroke="#a8a8a8" stroke-width="1.9" fill="none" shape-rendering="geometricPrecision"/>
<rect x="2336" y="1064" width="12" height="2" fill="#3e3e3e"/>
<rect x="2524" y="1064" width="12" height="2" fill="#3e3e3e"/>
<text transform="translate(2435.50,1070.50) scale(1,1.13)" class="ax" text-anchor="middle">80000</text>
<rect x="2420.72" y="1060.00" width="3.4" height="4.6" fill="#000" shape-rendering="geometricPrecision"/>
<path d="M2420.52 1067.20L2424.32 1057.40" stroke="#a8a8a8" stroke-width="1.9" fill="none" shape-rendering="geometricPrecision"/>
<rect x="2433.80" y="1060.00" width="3.4" height="4.6" fill="#000" shape-rendering="geometricPrecision"/>
<path d="M2433.60 1067.20L2437.40 1057.40" stroke="#a8a8a8" stroke-width="1.9" fill="none" shape-rendering="geometricPrecision"/>
<rect x="2446.88" y="1060.00" width="3.4" height="4.6" fill="#000" shape-rendering="geometricPrecision"/>
<path d="M2446.68 1067.20L2450.48 1057.40" stroke="#a8a8a8" stroke-width="1.9" fill="none" shape-rendering="geometricPrecision"/>
<rect x="2459.96" y="1060.00" width="3.4" height="4.6" fill="#000" shape-rendering="geometricPrecision"/>
<path d="M2459.76 1067.20L2463.56 1057.40" stroke="#a8a8a8" stroke-width="1.9" fill="none" shape-rendering="geometricPrecision"/>
<rect x="2336" y="1128" width="12" height="2" fill="#3e3e3e"/>
<rect x="2524" y="1128" width="12" height="2" fill="#3e3e3e"/>
<text transform="translate(2435.50,1134.80) scale(1,1.1)" class="ax" text-anchor="middle">6000</text>
<rect x="2427.26" y="1124.30" width="3.4" height="4.6" fill="#000" shape-rendering="geometricPrecision"/>
<path d="M2427.06 1131.50L2430.86 1121.70" stroke="#a8a8a8" stroke-width="1.9" fill="none" shape-rendering="geometricPrecision"/>
<rect x="2440.34" y="1124.30" width="3.4" height="4.6" fill="#000" shape-rendering="geometricPrecision"/>
<path d="M2440.14 1131.50L2443.94 1121.70" stroke="#a8a8a8" stroke-width="1.9" fill="none" shape-rendering="geometricPrecision"/>
<rect x="2453.42" y="1124.30" width="3.4" height="4.6" fill="#000" shape-rendering="geometricPrecision"/>
<path d="M2453.22 1131.50L2457.02 1121.70" stroke="#a8a8a8" stroke-width="1.9" fill="none" shape-rendering="geometricPrecision"/>
<rect x="2336" y="1196" width="12" height="2" fill="#3e3e3e"/>
<rect x="2524" y="1196" width="12" height="2" fill="#3e3e3e"/>
<text transform="translate(2435.50,1202.80) scale(1,1.1)" class="ax" text-anchor="middle">4000</text>
<rect x="2427.26" y="1192.30" width="3.4" height="4.6" fill="#000" shape-rendering="geometricPrecision"/>
<path d="M2427.06 1199.50L2430.86 1189.70" stroke="#a8a8a8" stroke-width="1.9" fill="none" shape-rendering="geometricPrecision"/>
<rect x="2440.34" y="1192.30" width="3.4" height="4.6" fill="#000" shape-rendering="geometricPrecision"/>
<path d="M2440.14 1199.50L2443.94 1189.70" stroke="#a8a8a8" stroke-width="1.9" fill="none" shape-rendering="geometricPrecision"/>
<rect x="2453.42" y="1192.30" width="3.4" height="4.6" fill="#000" shape-rendering="geometricPrecision"/>
<path d="M2453.22 1199.50L2457.02 1189.70" stroke="#a8a8a8" stroke-width="1.9" fill="none" shape-rendering="geometricPrecision"/>
<rect x="2336" y="1266" width="12" height="2" fill="#3e3e3e"/>
<rect x="2524" y="1266" width="12" height="2" fill="#3e3e3e"/>
<text transform="translate(2435.50,1272.80) scale(1,1.1)" class="ax" text-anchor="middle">2000</text>
<rect x="2427.26" y="1262.30" width="3.4" height="4.6" fill="#000" shape-rendering="geometricPrecision"/>
<path d="M2427.06 1269.50L2430.86 1259.70" stroke="#a8a8a8" stroke-width="1.9" fill="none" shape-rendering="geometricPrecision"/>
<rect x="2440.34" y="1262.30" width="3.4" height="4.6" fill="#000" shape-rendering="geometricPrecision"/>
<path d="M2440.14 1269.50L2443.94 1259.70" stroke="#a8a8a8" stroke-width="1.9" fill="none" shape-rendering="geometricPrecision"/>
<rect x="2453.42" y="1262.30" width="3.4" height="4.6" fill="#000" shape-rendering="geometricPrecision"/>
<path d="M2453.22 1269.50L2457.02 1259.70" stroke="#a8a8a8" stroke-width="1.9" fill="none" shape-rendering="geometricPrecision"/>
<rect x="2336" y="1334" width="12" height="2" fill="#3e3e3e"/>
<rect x="2524" y="1334" width="12" height="2" fill="#3e3e3e"/>
<text transform="translate(2435.50,1340.80) scale(1,1.1)" class="ax" text-anchor="middle">0</text>
<rect x="2433.80" y="1330.30" width="3.4" height="4.6" fill="#000" shape-rendering="geometricPrecision"/>
<path d="M2433.60 1337.50L2437.40 1327.70" stroke="#a8a8a8" stroke-width="1.9" fill="none" shape-rendering="geometricPrecision"/>
<rect x="4" y="1102" width="2532" height="2" fill="#3a3a3a"/>
<rect x="4" y="1350" width="2532" height="2" fill="#3a3a3a"/>
<rect x="514" y="1352" width="2" height="8" fill="#3a3a3a"/>
<rect x="1630" y="1352" width="2" height="8" fill="#3a3a3a"/>
<text transform="translate(515.00,1375.20) scale(1,1.08)" class="ax" text-anchor="middle">Oct</text>
<text transform="translate(1631.00,1375.20) scale(1,1.08)" class="ax" text-anchor="middle">Nov</text>
<text transform="translate(2436.00,1375.20) scale(1,1.08)" class="ax" text-anchor="middle">Now</text>
<text transform="translate(730.00,95.20) scale(1,1.13)" class="ann" text-anchor="middle">126272</text>
<text transform="translate(2248.00,1059.70) scale(1,1.13)" class="ann" text-anchor="middle">80537</text>
<rect x="2233.22" y="1049.20" width="3.4" height="4.6" fill="#000" shape-rendering="geometricPrecision"/>
<path d="M2233.02 1056.40L2236.82 1046.60" stroke="#dcdcdc" stroke-width="1.9" fill="none" shape-rendering="geometricPrecision"/>
<g fill="none" stroke="#dcdcdc" stroke-width="2.1" stroke-linecap="round" stroke-linejoin="round" shape-rendering="geometricPrecision"><path d="M665.2 89.9H676"/><path d="M668.6 86.2L665 89.9L668.6 93.6"/><path d="M2296 1053.9H2306.6"/><path d="M2303 1050.2L2306.6 1053.9L2303 1057.6"/></g>
</svg>
</body></html>
